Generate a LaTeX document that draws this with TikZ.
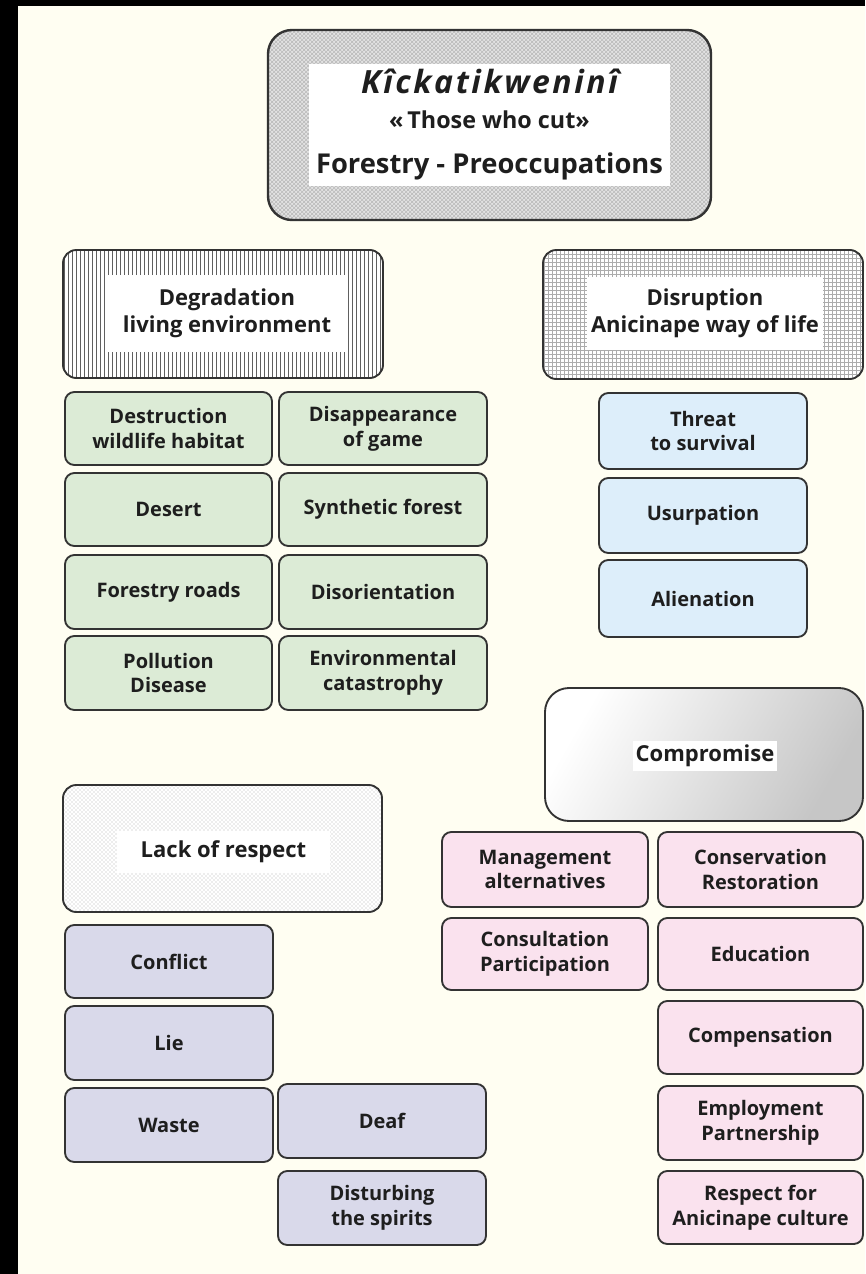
\documentclass[tikz,border=0pt]{standalone}
\usepackage{fontspec}
\setmainfont{Open Sans}
\usetikzlibrary{patterns}
\definecolor{bgc}{HTML}{FFFEF2}
\definecolor{brd}{HTML}{333333}
\definecolor{txt}{HTML}{1E1E1E}
\definecolor{grn}{HTML}{DCEBD6}
\definecolor{blu}{HTML}{DDEEFA}
\definecolor{pnk}{HTML}{FAE2EE}
\definecolor{prp}{HTML}{D9D9EA}
\newcommand\bx[7]{\node[#1, minimum width={((#5)-(#3))*0.75pt}, minimum height={((#6)-(#4))*0.75pt}] (#2) at ({((#3)+(#5))/2},{((#4)+(#6))/2}) {#7};}
\begin{document}
\begin{tikzpicture}[x=0.75pt,y=-0.75pt,
  base/.style={draw=brd, line width=1.4pt, inner sep=0pt, align=center, text=txt},
  box/.style={base, rounded corners=7pt, font=\bfseries\fontsize{15}{18.5}\selectfont},
  gbox/.style={box, fill=grn},
  bbox/.style={box, fill=blu},
  pbox/.style={box, fill=pnk},
  vbox/.style={box, fill=prp},
  hdr/.style={base, rounded corners=10pt},
  lbl/.style={fill=white, inner sep=0pt, align=center, text=txt, font=\bfseries\fontsize{16.5}{20}\selectfont},
]
\useasboundingbox (0,0) rectangle (865,1274);
\fill[black] (0,0) rectangle (865,1274);
\fill[bgc] (18,6) rectangle (865,1274);

% title
\bx{hdr, rounded corners=18pt, line width=1.8pt, preaction={fill=gray!22}, pattern=crosshatch, pattern color=gray!55}{title}{268}{30}{711}{220}{}
\node[fill=white, inner sep=0pt, minimum width={361*0.75pt}, minimum height={122*0.75pt}, align=center, text=txt, font=\fontsize{17.5}{26}\selectfont] (titleT) at (title) {{\bfseries\itshape\fontsize{24}{26}\selectfont\addfontfeatures{LetterSpace=8}Kîckatikweninî}\\{\bfseries «\,Those who cut»}\\[8pt]{\bfseries\fontsize{20.5}{26}\selectfont Forestry - Preoccupations}};

% degradation
\bx{hdr, preaction={fill=white}, pattern=vertical lines, pattern color=gray!75!black}{deg}{63}{250}{383}{378}{}
\bx{lbl}{degT}{107}{275}{347}{352}{Degradation\\living environment}
\bx{gbox}{g1}{65}{392}{272}{465}{Destruction\\wildlife habitat}
\bx{gbox}{g2}{279}{392}{487}{465}{Disappearance\\of game}
\bx{gbox}{g3}{65}{473}{272}{546}{Desert}
\bx{gbox}{g4}{279}{473}{487}{546}{Synthetic forest}
\bx{gbox}{g5}{65}{555}{272}{629}{Forestry roads}
\bx{gbox}{g6}{279}{555}{487}{629}{Disorientation}
\bx{gbox}{g7}{65}{636}{272}{710}{Pollution\\Disease}
\bx{gbox}{g8}{279}{636}{487}{710}{Environmental\\catastrophy}

% disruption
\bx{hdr, preaction={fill=white}, pattern=grid, pattern color=gray!65}{dis}{543}{250}{863}{379}{}
\bx{lbl}{disT}{587}{277}{823}{350}{Disruption\\Anicinape way of life}
\bx{bbox}{b1}{599}{393}{807}{469}{Threat\\to survival}
\bx{bbox}{b2}{599}{478}{807}{553}{Usurpation}
\bx{bbox}{b3}{599}{560}{807}{637}{Alienation}

% compromise
\bx{hdr, rounded corners=18pt, shading=axis, left color=white, right color=gray!45, shading angle=60}{com}{545}{688}{863}{821}{}
\bx{lbl}{comT}{633}{741}{777}{771}{Compromise}
\bx{pbox}{p1}{442}{832}{648}{907}{Management\\alternatives}
\bx{pbox}{p2}{658}{832}{863}{907}{Conservation\\Restoration}
\bx{pbox}{p3}{442}{918}{648}{990}{Consultation\\Participation}
\bx{pbox}{p4}{658}{918}{863}{990}{Education}
\bx{pbox}{p5}{658}{1001}{863}{1074}{Compensation}
\bx{pbox}{p6}{658}{1086}{863}{1160}{Employment\\Partnership}
\bx{pbox}{p7}{658}{1171}{863}{1244}{Respect for\\Anicinape culture}

% lack of respect
\bx{hdr, preaction={fill=white}, pattern=crosshatch dots, pattern color=gray!60}{lac}{63}{785}{382}{912}{}
\bx{lbl}{lacT}{117}{831}{330}{873}{Lack of respect}
\bx{vbox}{v1}{65}{925}{273}{998}{Conflict}
\bx{vbox}{v2}{65}{1006}{273}{1080}{Lie}
\bx{vbox}{v3}{65}{1088}{273}{1162}{Waste}
\bx{vbox}{v4}{278}{1084}{486}{1158}{Deaf}
\bx{vbox}{v5}{278}{1171}{486}{1245}{Disturbing\\the spirits}
\end{tikzpicture}
\end{document}
